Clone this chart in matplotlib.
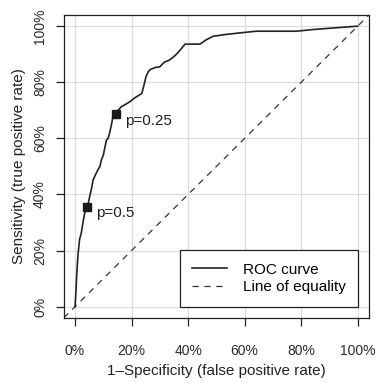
import numpy as np
import matplotlib
matplotlib.use("Agg")
import matplotlib.pyplot as plt
from matplotlib.ticker import PercentFormatter

plt.rcParams['font.family'] = ['Liberation Sans', 'DejaVu Sans']

# ROC curve (false positive rate, true positive rate)
fpr = [0.000, 0.003, 0.005, 0.008, 0.011, 0.016, 0.022, 0.028, 0.034, 0.044,
       0.052, 0.058, 0.064, 0.072, 0.081, 0.088, 0.093, 0.100, 0.106, 0.111,
       0.117, 0.122, 0.128, 0.134, 0.146, 0.152, 0.164, 0.180, 0.194, 0.212,
       0.236, 0.244, 0.251, 0.259, 0.267, 0.285, 0.300, 0.310, 0.318, 0.330,
       0.342, 0.359, 0.372, 0.389, 0.415, 0.442, 0.465, 0.489, 0.530, 0.583,
       0.642, 0.720, 0.783, 0.842, 0.920, 1.000]
tpr = [0.000, 0.050, 0.096, 0.150, 0.191, 0.240, 0.262, 0.300, 0.333, 0.357,
       0.393, 0.420, 0.452, 0.470, 0.488, 0.500, 0.523, 0.540, 0.570, 0.594,
       0.600, 0.618, 0.645, 0.677, 0.687, 0.700, 0.713, 0.722, 0.731, 0.745,
       0.760, 0.790, 0.820, 0.838, 0.846, 0.853, 0.855, 0.866, 0.873, 0.877,
       0.885, 0.900, 0.915, 0.936, 0.936, 0.936, 0.952, 0.964, 0.970, 0.976,
       0.982, 0.982, 0.982, 0.988, 0.994, 1.000]

# cut-off points marked on the curve
cut_labels = ["p=0.5", "p=0.25"]
cut_fpr = [0.044, 0.146]
cut_tpr = [0.357, 0.687]

ticks = [0, 0.2, 0.4, 0.6, 0.8, 1.0]

fig = plt.figure(figsize=(3.84, 3.83), dpi=100)
ax = fig.add_axes([0.166, 0.170, 0.795, 0.791])

ax.set_xlim(-0.04, 1.04)
ax.set_ylim(-0.04, 1.04)
ax.set_xticks(ticks)
ax.set_yticks(ticks)
ax.xaxis.set_major_formatter(PercentFormatter(1.0, decimals=0))
ax.yaxis.set_major_formatter(PercentFormatter(1.0, decimals=0))
for t in ticks:
    ax.axvline(t, color="#dcdcdc", lw=0.9, zorder=0)
    ax.axhline(t, color="#dcdcdc", lw=0.9, zorder=0)

ax.plot([-0.04, 1.04], [-0.04, 1.04], color="#333333", lw=0.9,
        dashes=(5, 4.5), label="Line of equality", zorder=2)
ax.plot(fpr, tpr, color="#222222", lw=1.2, label="ROC curve", zorder=3)
ax.plot(cut_fpr, cut_tpr, "s", color="#1a1a1a", ms=5.5, zorder=4)
for lab, x, y in zip(cut_labels, cut_fpr, cut_tpr):
    ax.annotate(lab, (x, y), xytext=(6, -5), textcoords="offset points",
                ha="left", va="center", fontsize=11, color="#222222")

handles, labels = ax.get_legend_handles_labels()
leg = ax.legend(handles[::-1], labels[::-1], loc="lower right",
                bbox_to_anchor=(1.0, 0.0), bbox_transform=ax.transData,
                borderaxespad=0, fontsize=11, fancybox=False, framealpha=1,
                edgecolor="#222222", handlelength=2.3, borderpad=0.8,
                labelspacing=0.25, handletextpad=1.0)
leg.get_frame().set_linewidth(0.9)

ax.tick_params(direction="out", length=6, width=0.9, labelsize=10,
               color="#222222", labelcolor="#2a2a2a")
ax.tick_params(axis="x", pad=13)
ax.tick_params(axis="y", pad=6)
for lab in ax.get_yticklabels():
    lab.set_rotation(90)
    lab.set_va("center")
for s in ax.spines.values():
    s.set_linewidth(0.9)
    s.set_color("#222222")

ax.set_xlabel("1\u2013Specificity (false positive rate)", fontsize=11,
              color="#222222", labelpad=4)
ax.set_ylabel("Sensitivity (true positive rate)", fontsize=11,
              color="#222222", labelpad=5)

fig.savefig("out.png", dpi=100)
